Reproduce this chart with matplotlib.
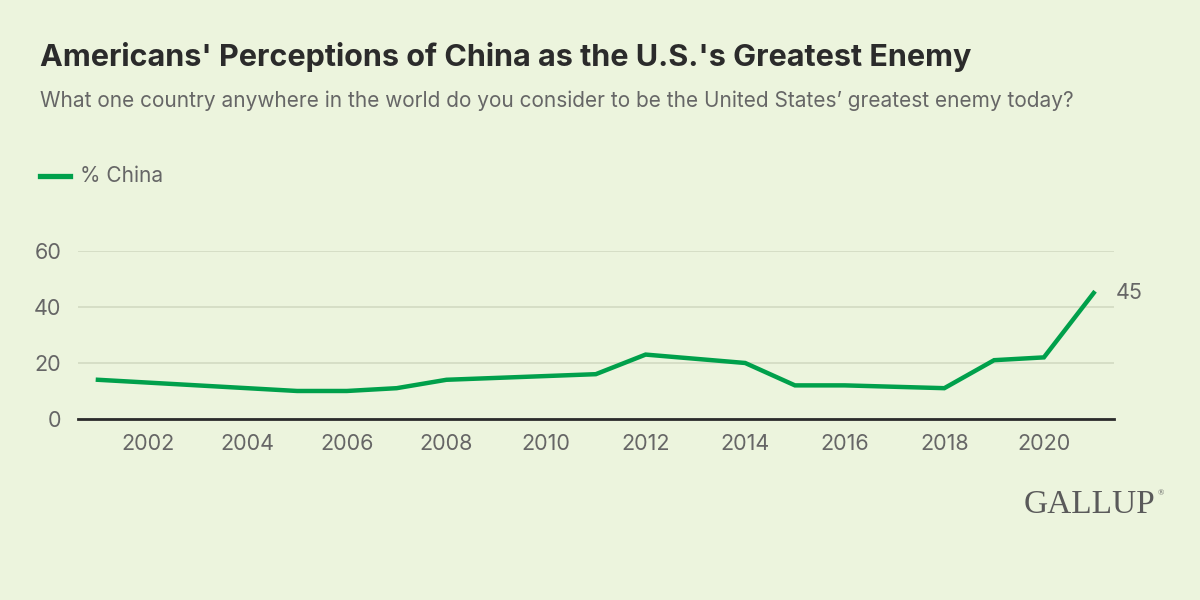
import matplotlib.pyplot as plt

# data
years = [2001, 2005, 2006, 2007, 2008, 2011, 2012, 2014, 2015, 2016, 2018, 2019, 2020, 2021]
pct_china = [14, 10, 10, 11, 14, 16, 23, 20, 12, 12, 11, 21, 22, 45]
x_ticks = [2002, 2004, 2006, 2008, 2010, 2012, 2014, 2016, 2018, 2020]
y_ticks = [0, 20, 40, 60]

BG = '#ECF4DD'
GREEN = '#00A04B'
GRID = '#D4DCC4'
TEXT = '#666666'
DARK = '#2B2B2B'

plt.rcParams['font.family'] = ['Inter', 'DejaVu Sans']

fig = plt.figure(figsize=(12, 6), dpi=100, facecolor=BG)
ax = fig.add_axes([0.065, 0.3017, 0.863, 0.28])
ax.set_facecolor(BG)

ax.plot(years, pct_china, color=GREEN, linewidth=3.2, solid_joinstyle='miter', clip_on=False, zorder=3)
ax.text(years[-1] + 0.45, pct_china[-1], str(pct_china[-1]), color=TEXT, fontsize=15.5,
        va='center', ha='left')

ax.set_xlim(2000.6, 2021.4)
ax.set_ylim(0, 60)
ax.set_xticks(x_ticks)
ax.set_yticks(y_ticks)
ax.tick_params(axis='both', length=0, labelsize=15.5, labelcolor=TEXT)
ax.tick_params(axis='x', pad=11)
ax.tick_params(axis='y', pad=12)
ax.grid(axis='y', color=GRID, linewidth=1.3)
ax.set_axisbelow(True)
for s in ['top', 'right', 'left']:
    ax.spines[s].set_visible(False)
ax.spines['bottom'].set_color(DARK)
ax.spines['bottom'].set_linewidth(2)
ax.spines['bottom'].set_zorder(4)

# titles
fig.text(40 / 1200, 1 - 57 / 600, "Americans' Perceptions of China as the U.S.'s Greatest Enemy",
         fontsize=22, fontweight='bold', color=DARK, va='center', ha='left')
fig.text(40 / 1200, 1 - 101 / 600,
         "What one country anywhere in the world do you consider to be the United States\u2019 greatest enemy today?",
         fontsize=15, color=TEXT, va='center', ha='left')

# legend
fig.add_artist(plt.Line2D([40 / 1200, 70 / 1200], [1 - 176 / 600, 1 - 176 / 600], color=GREEN, linewidth=3.8))
fig.text(80 / 1200, 1 - 176 / 600, '% China', fontsize=15, color=TEXT, va='center', ha='left')

# logo
fig.text(1024 / 1200, 1 - 505 / 600, 'GALLUP', family='Liberation Serif', fontsize=24,
         color='#5A5A5A', va='center', ha='left')
fig.text(1158 / 1200, 1 - 493 / 600, '\u00ae', family='Liberation Serif', fontsize=6,
         color='#5A5A5A', va='center', ha='left')

fig.savefig('out.png', dpi=100, facecolor=BG)
